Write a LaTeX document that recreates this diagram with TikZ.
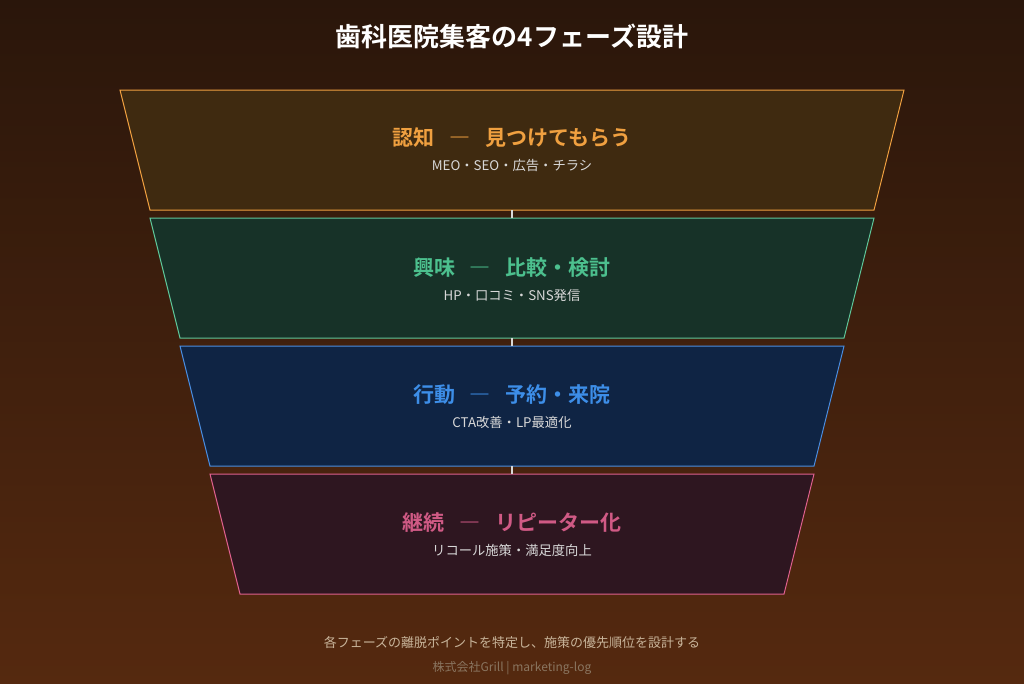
\documentclass[tikz,border=0pt]{standalone}
\usepackage{fontspec}
\setmainfont{Noto Sans CJK JP}
\newfontfamily\jpbold{Noto Sans CJK JP Bold}
\usepackage{tikz}

\definecolor{bgtop}{HTML}{2A160B}
\definecolor{bgbot}{HTML}{55290F}
\definecolor{orline}{HTML}{F0A040}
\definecolor{orfill}{HTML}{3F2A10}
\definecolor{grline}{HTML}{5FC79A}
\definecolor{grfill}{HTML}{173228}
\definecolor{grtext}{HTML}{4CC08E}
\definecolor{blline}{HTML}{4A8DE0}
\definecolor{blfill}{HTML}{0F2444}
\definecolor{bltext}{HTML}{3D8EE8}
\definecolor{pkline}{HTML}{E0608E}
\definecolor{pkfill}{HTML}{2E1620}
\definecolor{pktext}{HTML}{D05A85}
\definecolor{subtext}{HTML}{D8D8D8}
\definecolor{foottext}{HTML}{C8B49A}
\definecolor{credtext}{HTML}{8A7560}

\newcommand{\phdash}{\hspace{0.7em}―\hspace{0.7em}}

\tikzset{
  phase/.style={line width=1pt},
  phaselabel/.style={font=\jpbold\fontsize{21}{24}\selectfont, inner sep=0pt},
  phasesub/.style={font=\fontsize{13.3}{16}\selectfont, text=subtext, inner sep=0pt},
  link/.style={draw=subtext, line width=1.5pt},
}

\begin{document}
\begin{tikzpicture}[x=1pt, y=-1pt]
				\shade[top color=bgtop, bottom color=bgbot] (0,0) rectangle (1024,683);
				\useasboundingbox (0,0) rectangle (1024,683);
				\node[font=\jpbold\fontsize{26}{30}\selectfont, text=white, inner sep=0pt] (title)at(512, 36) {歯科医院集客の4フェーズ設計};
				% funnel
				\draw[phase, draw=orline, fill=orfill] (120,90) -- (904,90) -- (874,210) -- (150,210) -- cycle;
				\draw[phase, draw=grline, fill=grfill] (150,218) -- (874,218) -- (844,338) -- (180,338) -- cycle;
				\draw[phase, draw=blline, fill=blfill] (180,346) -- (844,346) -- (814,466) -- (210,466) -- cycle;
				\draw[phase, draw=pkline, fill=pkfill] (210,474) -- (814,474) -- (784,594) -- (240,594) -- cycle;
				\coordinate (P1b)at(512, 210);
				\coordinate (P2t)at(512, 218);
				\coordinate (P2b)at(512, 338);
				\coordinate (P3t)at(512, 346);
				\coordinate (P3b)at(512, 466);
				\coordinate (P4t)at(512, 474);
				\node[phaselabel, text=orline] (P1)at(512, 138) {認知\phdash 見つけてもらう};
				\node[phasesub] (P1s)at(512, 166) {MEO・SEO・広告・チラシ};
				\node[phaselabel, text=grtext] (P2)at(512, 268) {興味\phdash 比較・検討};
				\node[phasesub] (P2s)at(512, 295) {HP・口コミ・SNS発信};
				\node[phaselabel, text=bltext] (P3)at(512, 395) {行動\phdash 予約・来院};
				\node[phasesub] (P3s)at(512, 422) {CTA改善・LP最適化};
				\node[phaselabel, text=pktext] (P4)at(512, 523) {継続\phdash リピーター化};
				\node[phasesub] (P4s)at(512, 550) {リコール施策・満足度向上};
				\draw[link] (P1b) -- (P2t);
				\draw[link] (P2b) -- (P3t);
				\draw[link] (P3b) -- (P4t);
				% footer
				\node[font=\fontsize{13}{16}\selectfont, text=foottext, inner sep=0pt] (note)at(512, 643) {各フェーズの離脱ポイントを特定し、施策の優先順位を設計する};
				\node[font=\fontsize{12}{14}\selectfont, text=credtext, inner sep=0pt] (credit)at(512, 668) {株式会社Grill\ |\ marketing-log};
			\end{tikzpicture}
\end{document}
